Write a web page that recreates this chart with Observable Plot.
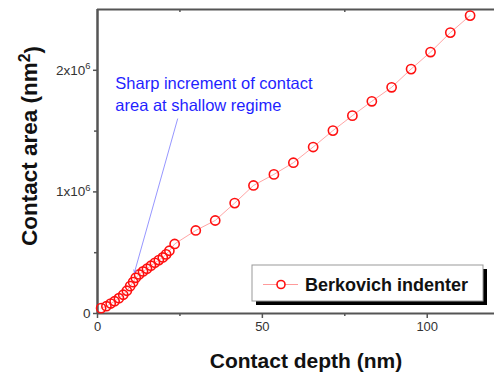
<!DOCTYPE html>
<html><head><meta charset="utf-8">
<script src="https://cdn.jsdelivr.net/npm/d3@7"></script>
<script src="https://cdn.jsdelivr.net/npm/@observablehq/plot@0.6"></script>
<style>
body{margin:0;background:#fff;}
svg{font-family:Arial,"Liberation Sans",sans-serif;}
</style>
</head><body><div id="chart"></div>
<script>
// Contact depth (nm)
const depth = [1.1,2.7,4.0,5.2,6.5,7.8,8.9,9.9,10.8,11.6,12.6,13.8,15.0,16.2,17.4,18.6,19.8,20.8,21.8,23.4,
  29.8,35.7,41.6,47.3,53.5,59.4,65.4,71.4,77.3,83.2,89.2,95.1,101.0,107.0,113.0];
// Contact area (nm^2)
const area = [0.044,0.060,0.082,0.101,0.126,0.154,0.187,0.225,0.258,0.294,0.321,0.346,0.368,0.393,0.417,0.439,0.461,0.486,0.516,0.572,
  0.683,0.765,0.908,1.053,1.144,1.240,1.369,1.504,1.627,1.745,1.860,2.010,2.150,2.310,2.450].map(v => v * 1e6);
const seriesName = "Berkovich indenter";
const xTicks = [0, 50, 100];
const xMinor = [25, 75];
const yTicks = [0, 1e6, 2e6];
const yMinor = [0.5e6, 1.5e6];
const yTickBase = ["0", "1x10", "2x10"];
const yTickExp = ["", "6", "6"];
const xLabel = "Contact depth (nm)";
const yLabel = ["Contact area (nm", "2", ")"];
const noteLines = ["Sharp increment of contact", "area at shallow regime"];
const noteAnchor = {x: 5.4, y: 1.813e6};
const arrowFrom = {x: 24.3, y: 1.60e6};
const arrowTo = {x: 11.2, y: 0.337e6};

const data = depth.map((d, i) => ({depth: d, area: area[i]}));
const frame = "#555";

const plot = Plot.plot({
  width: 494, height: 373,
  marginLeft: 97, marginRight: 0, marginTop: 9, marginBottom: 60,
  x: {domain: [0, 120.4]},
  y: {domain: [0, 2.5e6]},
  style: {fontFamily: "Arial, 'Liberation Sans', sans-serif", fontSize: "12.5px", background: "#fff"},
  marks: [
    Plot.axisX(xTicks, {tickSize: 5, tickPadding: 3, fill: "#333", stroke: frame, strokeWidth: 1.5, tickFormat: d => "X" + d, label: null}),
    Plot.axisX(xMinor, {tickSize: 3, stroke: frame, strokeWidth: 1.5, tickFormat: () => "", label: null}),
    Plot.axisY(yTicks, {tickSize: 4, tickPadding: 3, fill: "#333", stroke: frame, strokeWidth: 1.5, tickFormat: d => "T" + yTicks.indexOf(d), label: null}),
    Plot.axisY(yMinor, {tickSize: 3, stroke: frame, strokeWidth: 1.5, tickFormat: () => "", label: null}),
    Plot.ruleX(xMinor, {y1: 2.5e6, y2: 2.475e6, stroke: frame, strokeWidth: 1.5}),
    Plot.ruleY([0], {stroke: frame, strokeWidth: 2}),
    Plot.ruleY([2.5e6], {stroke: frame, strokeWidth: 2}),
    Plot.ruleX([0], {stroke: frame, strokeWidth: 2.5}),
    Plot.line(data, {x: "depth", y: "area", stroke: "#ff9a9a", strokeWidth: 0.9}),
    Plot.dot(data, {x: "depth", y: "area", r: 4.6, stroke: "#ff1010", strokeWidth: 1.6, fill: "none"}),
    Plot.arrow([0], {x1: () => arrowFrom.x, y1: () => arrowFrom.y, x2: () => arrowTo.x, y2: () => arrowTo.y, stroke: "#7b7bff", strokeWidth: 0.8, headLength: 5}),
    Plot.text([noteLines.join("\n")], {x: () => noteAnchor.x, y: () => noteAnchor.y, text: d => d, textAnchor: "start", lineAnchor: "middle", lineHeight: 1.3, fill: "#1f1fff", fontSize: 16.5})
  ]
});

document.getElementById("chart").appendChild(plot);
const svg = d3.select(plot);

// Tick labels: explicit size, superscripts on y
svg.selectAll("text").each(function() {
  const t = this.textContent;
  const el = d3.select(this);
  const mx = /^X(\d+)$/.exec(t);
  if (mx) {
    el.text(mx[1]).attr("font-size", 13);
    return;
  }
  const m = /^T(\d)$/.exec(t);
  if (!m) return;
  const i = +m[1];
  el.text(null).attr("font-size", 13.5);
  el.append("tspan").text(yTickBase[i]);
  if (yTickExp[i]) el.append("tspan").attr("dy", "-0.55em").attr("font-size", "0.7em").text(yTickExp[i]);
});

// Axis titles
svg.append("text")
  .attr("x", 306).attr("y", 368)
  .attr("text-anchor", "middle").attr("font-weight", "bold").attr("font-size", 21)
  .attr("fill", "#111").text(xLabel);
const yl = svg.append("text")
  .attr("transform", "translate(37,146) rotate(-90)")
  .attr("text-anchor", "middle").attr("font-weight", "bold").attr("font-size", 22.5)
  .attr("fill", "#111");
yl.append("tspan").text(yLabel[0]);
yl.append("tspan").attr("dy", "-0.45em").attr("font-size", "0.7em").text(yLabel[1]);
yl.append("tspan").attr("dy", "0.45em").text(yLabel[2]);

// Legend
const lg = svg.append("g").attr("text-anchor", "start");
lg.append("rect").attr("x", 256).attr("y", 269).attr("width", 231).attr("height", 36).attr("fill", "#000");
lg.append("rect").attr("x", 252).attr("y", 265).attr("width", 231).attr("height", 36).attr("fill", "#fff").attr("stroke", "#999").attr("stroke-width", 1);
lg.append("line").attr("x1", 263).attr("x2", 298).attr("y1", 284.5).attr("y2", 284.5).attr("stroke", "#ff9a9a").attr("stroke-width", 1);
lg.append("circle").attr("cx", 281).attr("cy", 284.5).attr("r", 4).attr("fill", "#fff").attr("stroke", "#ff1010").attr("stroke-width", 1.6);
lg.append("text").attr("x", 305).attr("y", 291).attr("text-anchor", "start").attr("font-size", 18).attr("font-weight", "bold").attr("fill", "#111").text(seriesName);
</script>
</body></html>
